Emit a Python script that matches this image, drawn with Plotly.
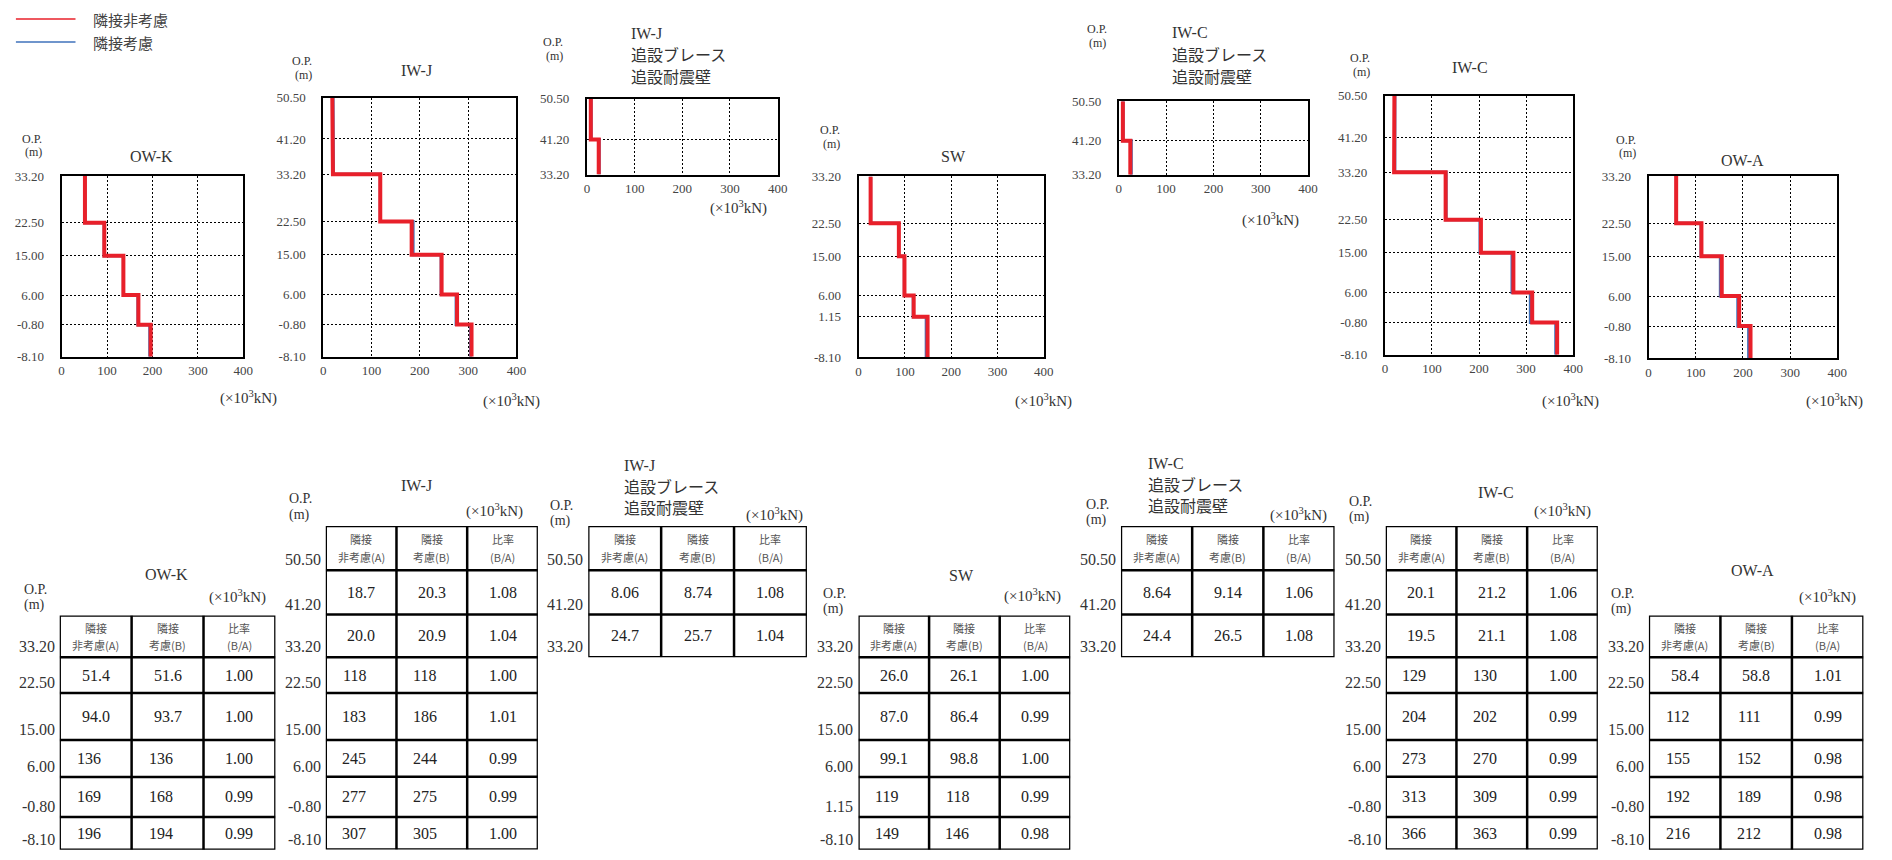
import plotly.graph_objects as go

# ---------------- data ----------------
OWK_ELEV = [33.2, 22.5, 15.0, 6.0, -0.8, -8.1]
OWK_A = [51.4, 94.0, 136, 169, 196]
OWK_B = [51.6, 93.7, 136, 168, 194]
OWK_R = [1.00, 1.00, 1.00, 0.99, 0.99]

IWJ_ELEV = [50.5, 41.2, 33.2, 22.5, 15.0, 6.0, -0.8, -8.1]
IWJ_A = [18.7, 20.0, 118, 183, 245, 277, 307]
IWJ_B = [20.3, 20.9, 118, 186, 244, 275, 305]
IWJ_R = [1.08, 1.04, 1.00, 1.01, 0.99, 0.99, 1.00]

IWJB_ELEV = [50.5, 41.2, 33.2]
IWJB_A = [8.06, 24.7]
IWJB_B = [8.74, 25.7]
IWJB_R = [1.08, 1.04]

SW_ELEV = [33.2, 22.5, 15.0, 6.0, 1.15, -8.1]
SW_A = [26.0, 87.0, 99.1, 119, 149]
SW_B = [26.1, 86.4, 98.8, 118, 146]
SW_R = [1.00, 0.99, 1.00, 0.99, 0.98]

IWCB_ELEV = [50.5, 41.2, 33.2]
IWCB_A = [8.64, 24.4]
IWCB_B = [9.14, 26.5]
IWCB_R = [1.06, 1.08]

IWC_ELEV = [50.5, 41.2, 33.2, 22.5, 15.0, 6.0, -0.8, -8.1]
IWC_A = [20.1, 19.5, 129, 204, 273, 313, 366]
IWC_B = [21.2, 21.1, 130, 202, 270, 309, 363]
IWC_R = [1.06, 1.08, 1.00, 0.99, 0.99, 0.99, 0.99]

OWA_ELEV = [33.2, 22.5, 15.0, 6.0, -0.8, -8.1]
OWA_A = [58.4, 112, 155, 192, 216]
OWA_B = [58.8, 111, 152, 189, 212]
OWA_R = [1.01, 0.99, 0.98, 0.98, 0.98]

X_TICKS = [0, 100, 200, 300, 400]
SERIES = ["隣接非考慮", "隣接考慮"]
BRACE_SUB = ["追設ブレース", "追設耐震壁"]
HEADERS = [("隣接", "非考慮(A)"), ("隣接", "考慮(B)"), ("比率", "(B/A)")]
UNIT = "(×10<sup>3</sup>kN)"

WALLS = [
    ("OW-K", OWK_ELEV, OWK_A, OWK_B, OWK_R),
    ("IW-J", IWJ_ELEV, IWJ_A, IWJ_B, IWJ_R),
    ("IW-J", IWJB_ELEV, IWJB_A, IWJB_B, IWJB_R),
    ("SW", SW_ELEV, SW_A, SW_B, SW_R),
    ("IW-C", IWCB_ELEV, IWCB_A, IWCB_B, IWCB_R),
    ("IW-C", IWC_ELEV, IWC_A, IWC_B, IWC_R),
    ("OW-A", OWA_ELEV, OWA_A, OWA_B, OWA_R),
]
BRACE = [False, False, True, False, True, False, False]

# ---------------- layout / style ----------------
W, H = 1892, 860
RED = "#e8202a"
BLUE = "#3f72bb"
TXT = "#333333"
SERIF = "'Liberation Serif', 'DejaVu Serif', 'Noto Sans CJK JP', serif"
CJK = "'Noto Sans CJK JP', sans-serif"

CHART_POS = [
    dict(box=(59, 242, 172, 356), op=(17, 134), title=(150, 152), unit=(247, 397)),
    dict(box=(322.5, 517, 92.5, 356), op=(289, 55), title=(416.7, 65), unit=(511.7, 400)),
    dict(box=(588, 780, 93.5, 170.5), op=(542, 36), title=(630, 26.5), unit=(740.8, 204)),
    dict(box=(861.5, 1048, 172.5, 356.5), op=(821, 125), title=(956.7, 151.7), unit=(1047.5, 400.7)),
    dict(box=(1123.5, 1314, 96, 170.7), op=(1089, 22.7), title=(1175, 26), unit=(1276.7, 216)),
    dict(box=(1391.5, 1581, 90.5, 354), op=(1354, 51.7), title=(1476.7, 61.7), unit=(1578, 400.7)),
    dict(box=(1657, 1847, 172, 357.5), op=(1622, 135), title=(1751.7, 156.7), unit=(1844, 400.7)),
]

NORMAL_ROWS = [42.7, 36.3, 47.9, 37.5, 40.8, 33.2]
TALL_ROWS = [45.0, 45.1, 43.4, 36.3, 47.9, 37.5, 40.8, 33.2]
BRACE_ROWS = [45.0, 45.1, 43.4]

TABLE_POS = [
    dict(left=57.1, cw=72.4, top=619.2, rows=NORMAL_ROWS, title=(164.3, 577.3), unit=(236.6, 600), op=(19.6, 593)),
    dict(left=325, cw=71.2, top=528.3, rows=TALL_ROWS, title=(416.3, 487.5), unit=(494.7, 512.8), op=(286, 500.7)),
    dict(left=589.3, cw=73.4, top=528.3, rows=BRACE_ROWS, title=(622.9, 466.7), unit=(777.1, 516), op=(549, 507.3)),
    dict(left=861.4, cw=71.1, top=619.2, rows=NORMAL_ROWS, title=(965, 578.3), unit=(1037, 599.3), op=(824, 596.7)),
    dict(left=1125.7, cw=71.7, top=528.3, rows=BRACE_ROWS, title=(1150.7, 465), unit=(1304, 516), op=(1088, 506)),
    dict(left=1392.3, cw=71.2, top=528.3, rows=TALL_ROWS, title=(1503.3, 494), unit=(1570, 512.7), op=(1353, 503.3)),
    dict(left=1657.3, cw=72.0, top=619.2, rows=NORMAL_ROWS, title=(1761.7, 573.3), unit=(1837.5, 600), op=(1617, 596.7)),
]


def px(x):
    return x / W


def py(y):
    return 1 - y / H


def step(elev, vals):
    xs, ys = [], []
    for i, v in enumerate(vals):
        xs += [v, v]
        ys += [elev[i], elev[i + 1]]
    return xs, ys


def fmt(v):
    if v >= 100:
        return f"{v:.0f}"
    if v >= 10:
        return f"{v:.1f}"
    return f"{v:.2f}"


fig = go.Figure()
annotations = []
shapes = []


def ann(x, y, text, size, xanchor="center", font=SERIF, color=TXT, **kw):
    annotations.append(dict(x=px(x), y=py(y), xref="paper", yref="paper", text=text,
                            showarrow=False, xanchor=xanchor, yanchor="middle",
                            font=dict(family=font, size=size, color=color), **kw))


tick_font = dict(family=SERIF, size=13, color="#444444")
axis_common = dict(showgrid=True, gridcolor="black", griddash="2px,2px", gridwidth=1,
                   showline=True, linecolor="black", linewidth=2, mirror=True,
                   zeroline=False, ticks="outside", tickcolor="rgba(0,0,0,0)",
                   tickfont=tick_font, fixedrange=True)

# ---------------- step charts ----------------
for i, ((name, elev, A, B, R), pos, brace) in enumerate(zip(WALLS, CHART_POS, BRACE), start=1):
    sfx = "" if i == 1 else str(i)
    xa, ya = "x" + sfx, "y" + sfx
    xb, yb = step(elev, B)
    xr, yr = step(elev, A)
    fig.add_trace(go.Scatter(x=xb, y=yb, mode="lines", name=SERIES[1], xaxis=xa, yaxis=ya,
                             line=dict(color=BLUE, width=3), showlegend=False))
    fig.add_trace(go.Scatter(x=xr, y=yr, mode="lines", name=SERIES[0], xaxis=xa, yaxis=ya,
                             line=dict(color=RED, width=4), showlegend=False))
    x0, x1, y0, y1 = pos["box"]
    fig.update_layout(**{
        "xaxis" + sfx: dict(domain=[px(x0), px(x1)], range=[0, 400], tickvals=X_TICKS,
                            ticktext=[str(v) for v in X_TICKS], ticklen=1, anchor=ya, **axis_common),
        "yaxis" + sfx: dict(domain=[py(y1), py(y0)], range=[elev[-1], elev[0]], tickvals=elev,
                            ticktext=[f"{e:.2f}" for e in elev], ticklen=13, anchor=xa, **axis_common),
    })
    ox, oy = pos["op"]
    ann(ox, oy, "O.P.", 12, xanchor="left")
    ann(ox + 3, oy + 14, "(m)", 12, xanchor="left")
    tx, ty = pos["title"]
    if brace:
        for k, line in enumerate([name] + BRACE_SUB):
            ann(tx, ty + k * 22.8, line, 16, xanchor="left")
    else:
        ann(tx, ty, name, 16)
    ux, uy = pos["unit"]
    ann(ux, uy, UNIT, 15)

# ---------------- tables ----------------
for j, ((name, elev, A, B, R), pos, brace) in enumerate(zip(WALLS, TABLE_POS, BRACE), start=8):
    xa, ya = f"x{j}", f"y{j}"
    left, cw, top, rows = pos["left"], pos["cw"], pos["top"], pos["rows"]
    bounds = [0.0]
    for h in rows:
        bounds.append(bounds[-1] + h)
    total = bounds[-1]
    fig.update_layout(**{
        f"xaxis{j}": dict(domain=[px(left), px(left + 3 * cw)], range=[0, 3], visible=False,
                          fixedrange=True, anchor=ya),
        f"yaxis{j}": dict(domain=[py(top + total), py(top)], range=[total, 0], visible=False,
                          fixedrange=True, anchor=xa),
    })
    lw = dict(color="black", width=2.5)
    shapes.append(dict(type="rect", xref=xa, yref=ya, x0=0, x1=3, y0=0, y1=total, line=lw))
    for c in (1, 2):
        shapes.append(dict(type="line", xref=xa, yref=ya, x0=c, x1=c, y0=0, y1=total, line=lw))
    for b in bounds[1:-1]:
        shapes.append(dict(type="line", xref=xa, yref=ya, x0=0, x1=3, y0=b, y1=b, line=lw))
    hh = bounds[1]
    for c, (l1, l2) in enumerate(HEADERS):
        for frac, txt in ((0.30, l1), (0.70, l2)):
            annotations.append(dict(x=c + 0.5, y=hh * frac, xref=xa, yref=ya, text=txt,
                                    showarrow=False, xanchor="center", yanchor="middle",
                                    font=dict(family=CJK, size=11, color="#555555")))
    for r in range(len(A)):
        yc = (bounds[r + 1] + bounds[r + 2]) / 2
        for c, txt in enumerate([fmt(A[r]), fmt(B[r]), f"{R[r]:.2f}"]):
            xs = -7 if (c < 2 and len(txt) == 3) else 0
            annotations.append(dict(x=c + 0.5, y=yc, xref=xa, yref=ya, text=txt, xshift=xs,
                                    showarrow=False, xanchor="center", yanchor="middle",
                                    font=dict(family=SERIF, size=16, color="#222222")))
    for r, e in enumerate(elev):
        annotations.append(dict(x=0, y=bounds[r + 1], xref=xa, yref=ya, text=f"{e:.2f}",
                                xshift=-3, showarrow=False, xanchor="right", yanchor="bottom",
                                font=dict(family=SERIF, size=16, color=TXT)))
    ox, oy = pos["op"]
    ann(ox, oy, "O.P.", 14, xanchor="left")
    ann(ox, oy + 16, "(m)", 14, xanchor="left")
    tx, ty = pos["title"]
    if brace:
        for k, line in enumerate([name] + BRACE_SUB):
            ann(tx, ty + k * 21.6, line, 16, xanchor="left")
    else:
        ann(tx, ty, name, 16)
    ux, uy = pos["unit"]
    ann(ux, uy, UNIT, 15)

# ---------------- legend ----------------
for k, (col, label) in enumerate(zip([RED, BLUE], SERIES)):
    yy = 12.3 + k * 23.4
    shapes.append(dict(type="line", xref="paper", yref="paper", x0=px(13), x1=px(73),
                       y0=py(yy), y1=py(yy), line=dict(color=col, width=1.5)))
    ann(89, yy, label, 15, xanchor="left", font=CJK, color="#444444")

fig.update_layout(width=W, height=H, margin=dict(l=0, r=0, t=0, b=0),
                  paper_bgcolor="white", plot_bgcolor="white", showlegend=False,
                  annotations=annotations, shapes=shapes)

fig.write_html("out.html", post_script="document.body.style.margin='0';",
               config={"displayModeBar": False})
